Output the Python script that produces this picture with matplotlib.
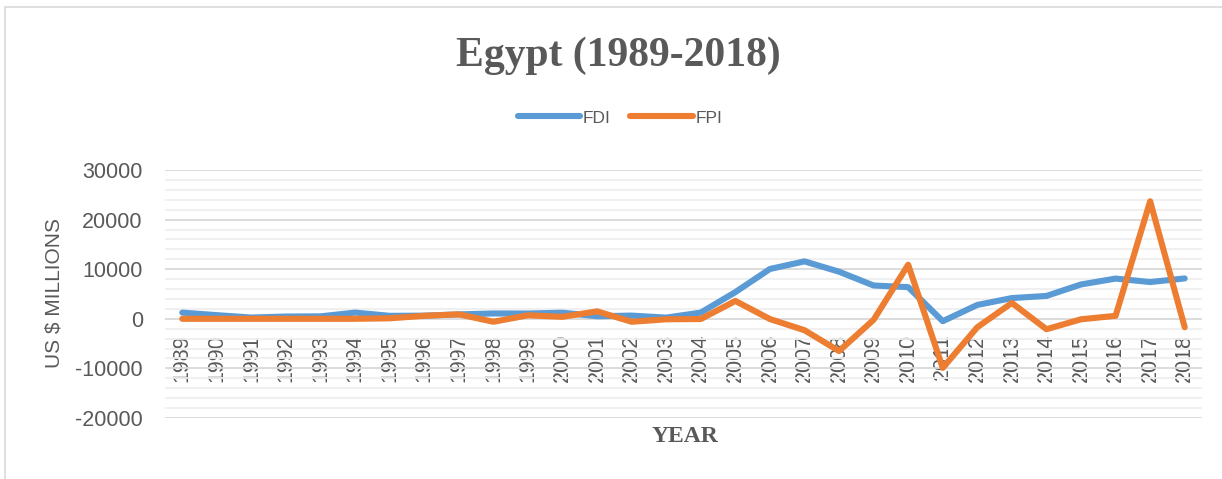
import matplotlib
matplotlib.use("Agg")
import matplotlib.pyplot as plt
from matplotlib.patches import Rectangle
from matplotlib.ticker import MultipleLocator

plt.rcParams["axes.unicode_minus"] = False

years = [str(y) for y in range(1989, 2019)]
fdi = [1250, 734, 253, 459, 493, 1256, 598, 636, 887, 1076, 1065, 1235, 510, 647, 237,
       1253, 5376, 10043, 11578, 9495, 6712, 6386, -483, 2798, 4178, 4612, 6925, 8107, 7409, 8141]
fpi = [0, 0, 0, 0, 0, 0, 100, 600, 900, -600, 700, 400, 1500, -600, -100,
       -50, 3600, -50, -2300, -6500, -200, 10900, -9900, -1700, 3200, -2100, -100, 600, 23700, -1700]
series_names = ["FDI", "FPI"]
title = "Egypt (1989-2018)"
xlabel = "YEAR"
ylabel = "US $ MILLIONS"

TXT = "#595959"
BLUE = "#5b9bd5"
ORANGE = "#ed7d31"
LW = 4.4

W, H = 1222, 479
fig = plt.figure(figsize=(W / 100, H / 100), dpi=100)
ax = fig.add_axes([165 / W, 1 - 418 / H, (1202 - 165) / W, (418 - 170) / H])

x = list(range(len(years)))
l1, = ax.plot(x, fdi, color=BLUE, lw=LW, solid_capstyle="round", solid_joinstyle="round", zorder=3, label=series_names[0])
l2, = ax.plot(x, fpi, color=ORANGE, lw=LW, solid_capstyle="round", solid_joinstyle="round", zorder=4, label=series_names[1])

ax.set_xlim(-0.5, len(years) - 0.5)
ax.set_ylim(-20000, 30000)
ax.yaxis.set_major_locator(MultipleLocator(10000))
ax.yaxis.set_minor_locator(MultipleLocator(2000))
ax.grid(which="major", axis="y", color="#d9d9d9", lw=1.3, zorder=0)
ax.grid(which="minor", axis="y", color="#efefef", lw=1.3, zorder=0)
ax.set_axisbelow(True)

for s in ["top", "right", "left"]:
    ax.spines[s].set_visible(False)
ax.spines["bottom"].set_position(("data", 0))
ax.spines["bottom"].set_visible(False)

ax.set_xticks(x)
ax.set_xticklabels(years, rotation=90, fontsize=15.5, color=TXT, family="Liberation Sans")
ax.tick_params(axis="x", length=0, pad=11)
ax.tick_params(axis="y", which="both", length=0, pad=16, labelsize=15.5, labelcolor=TXT)
for lab in ax.get_yticklabels():
    lab.set_family("Liberation Sans")

fig.text(54 / W, 1 - 293 / H, ylabel, rotation=90, ha="center", va="center",
         fontsize=15, color=TXT, family="Liberation Sans")
fig.text(685 / W, 1 - 437 / H, xlabel, ha="center", va="center",
         fontsize=17, color=TXT, family="Liberation Serif", weight="bold")
fig.text(618 / W, 1 - 56 / H, title, ha="center", va="center",
         fontsize=30, color=TXT, family="Liberation Serif", weight="bold")

leg = fig.legend(handles=[l1, l2], loc="center", bbox_to_anchor=(620 / W, 1 - 118 / H),
                 ncol=2, frameon=False, handlelength=3.6, handletextpad=0.15,
                 columnspacing=1.1, prop={"family": "Liberation Sans", "size": 12.5})
for t in leg.get_texts():
    t.set_color(TXT)

fig.patches.append(Rectangle((5 / W, -0.1), 1.2, 1.1 - 7 / H, transform=fig.transFigure,
                             fill=False, edgecolor="#d9d9d9", lw=1.2))

fig.savefig("out.png", dpi=100)
